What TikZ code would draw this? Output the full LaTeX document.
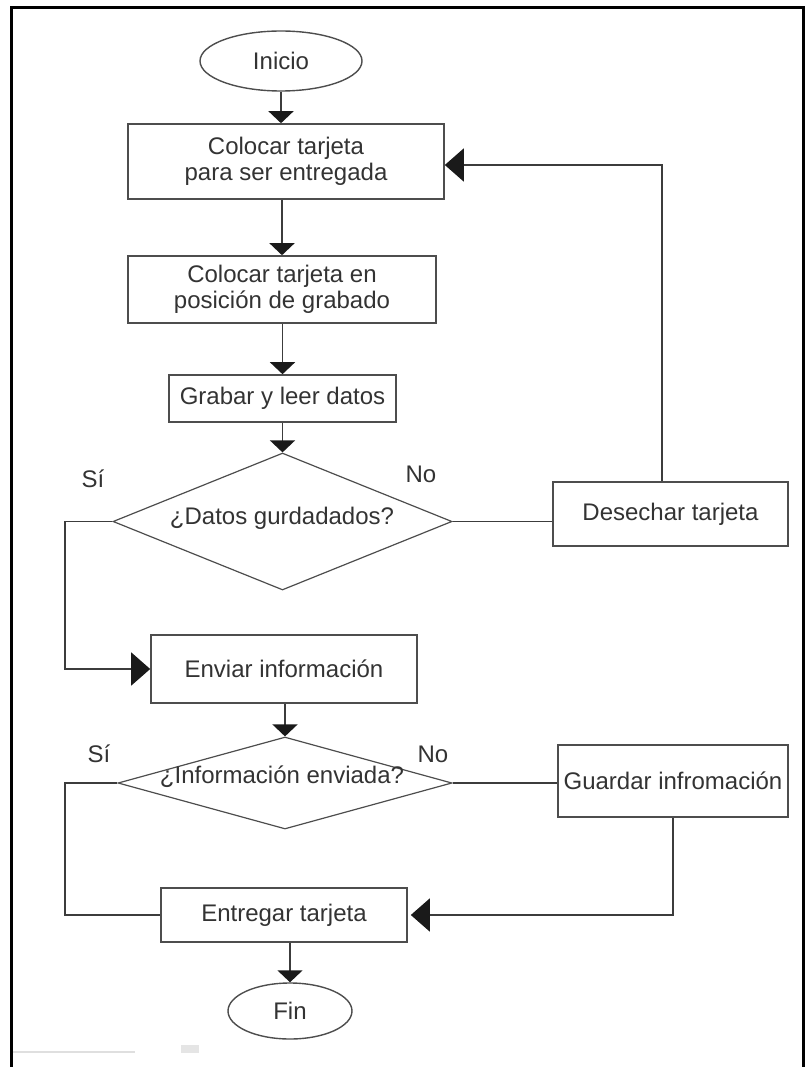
\documentclass[tikz,border=0pt]{standalone}
\usepackage{fontspec}
\setmainfont{Liberation Sans}
\usetikzlibrary{shapes.geometric,arrows.meta}
\definecolor{txtc}{HTML}{333333}
\definecolor{boxc}{HTML}{4D4D4D}
\definecolor{linec}{HTML}{3C3C3C}
\definecolor{tipc}{HTML}{1A1A1A}
\begin{document}
\begin{tikzpicture}[x=1pt,y=-1pt,
  every node/.style={font=\fontsize{24}{26}\selectfont, text=txtc},
  proc/.style={draw=boxc, line width=1.6pt, rectangle, inner sep=0pt, align=center},
  term/.style={draw=boxc, line width=1.4pt, ellipse, inner sep=0pt},
  dia/.style={draw=boxc, line width=1.2pt, diamond, inner sep=0pt},
  conn/.style={draw=linec, line width=1.5pt},
  darr/.style={conn, -{Triangle[length=12pt,width=25pt,color=tipc]}},
  sarr/.style={conn, -{Triangle[length=19pt,width=33pt,color=tipc]}}
]
\useasboundingbox (0,0) rectangle (806,1067);
% frame
\draw[line width=3pt, black] (11,1067) -- (11,8) -- (803,8) -- (803,1067);
% artifacts
\draw[gray!25, line width=2pt] (13,1052) -- (135,1052);
\fill[gray!20] (181,1045) rectangle (199,1053);
% nodes
\node[term, minimum width=162pt, minimum height=60pt] (ini) at (281,61) {Inicio};
\node[proc, minimum width=316pt, minimum height=75pt] (b1) at (286,161.5) {Colocar tarjeta\\para ser entregada};
\node[proc, minimum width=308pt, minimum height=67pt] (b2) at (282,289.5) {Colocar tarjeta en\\posición de grabado};
\node[proc, minimum width=227pt, minimum height=47pt] (b3) at (282.5,398.5) {Grabar y leer datos};
\node[dia, minimum width=339pt, minimum height=137pt] (d1) at (282.5,521.5) {};
\node (d1t) at (282,518) {¿Datos gurdadados?};
\node[proc, minimum width=235pt, minimum height=64pt] (des) at (670.5,514) {Desechar tarjeta};
\node[proc, minimum width=266pt, minimum height=68pt] (env) at (284,669) {Enviar información};
\node[dia, minimum width=334pt, minimum height=92pt] (d2) at (285,783) {};
\node (d2t) at (282,777) {¿Información enviada?};
\node[proc, minimum width=230pt, minimum height=72pt] (gua) at (673,781) {Guardar infromación};
\node[proc, minimum width=246pt, minimum height=54pt] (ent) at (284,915) {Entregar tarjeta};
\node[term, minimum width=124pt, minimum height=56pt] (fin) at (290,1011) {Fin};
% labels
\node[anchor=base] (si1) at (93,487) {Sí};
\node[anchor=base] (no1) at (421,482) {No};
\node[anchor=base] (si2) at (99,762) {Sí};
\node[anchor=base] (no2) at (433,762) {No};
% connectors
\coordinate (lx) at (65,600);
\coordinate (rt) at (662,165);
\draw[darr] (ini.south) -- (ini.south |- b1.north);
\draw[darr] (b2.north |- b1.south) -- (b2.north);
\draw[darr] (b3.north |- b2.south) -- (b3.north);
\draw[darr] (d1.north |- b3.south) -- (d1.north);
\draw[sarr] (d1.west) -- (d1.west -| lx) |- (env.west);
\draw[conn] (d1.east) -- (d1.east -| des.west);
\draw[sarr] (rt |- des.north) -- (rt) -- (rt -| b1.east);
\draw[darr] (d2.north |- env.south) -- (d2.north);
\draw[conn] (d2.west) -- (d2.west -| lx) |- (ent.west);
\draw[conn] (d2.east) -- (d2.east -| gua.west);
\draw[sarr, shorten >=3pt] (gua.south) |- (ent.east);
\draw[darr] (fin.north |- ent.south) -- (fin.north);
\end{tikzpicture}
\end{document}
